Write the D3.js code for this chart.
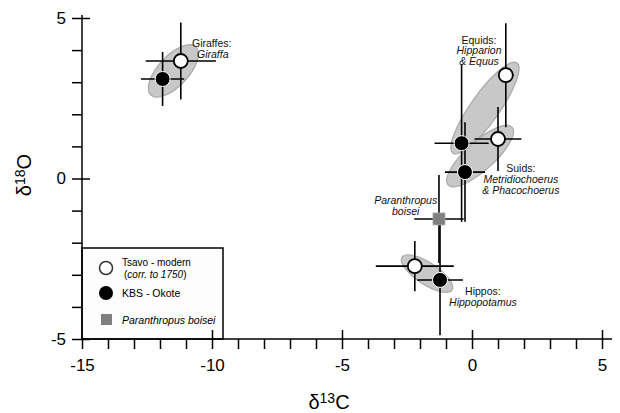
<!DOCTYPE html>
<html>
<head>
<meta charset="utf-8">
<script src="https://cdn.jsdelivr.net/npm/d3@7"></script>
<style>
  body { margin: 0; background: #fff; }
  svg { display: block; font-family: "Liberation Sans", Arial, Helvetica, sans-serif; }
</style>
</head>
<body>
<div id="chart"></div>
<script>
// Data (delta 13C vs delta 18O, per mil)
const groups = ["Giraffes", "Equids", "Suids", "Hippos"];

// Tsavo - modern (open circles)
const tsavoC = [-11.2, 1.3, 1.0, -2.2];
const tsavoO = [3.66, 3.22, 1.23, -2.73];
const tsavoErrC = [1.35, 0.3, 0.9, 1.5];
const tsavoErrO = [1.2, 1.62, 1.0, 0.78];

// KBS - Okote (filled circles)
const kbsC = [-11.9, -0.4, -0.27, -1.23];
const kbsO = [3.1, 1.1, 0.2, -3.16];
const kbsErrC = [0.83, 1.04, 0.77, 0.88];
const kbsErrO = [0.84, 2.45, 1.55, 1.72];

// Paranthropus boisei (square)
const boiseiC = [-1.27];
const boiseiO = [-1.26];
const boiseiErrC = [0.95];
const boiseiErrO = [1.37];

// shaded ellipses: major axis end points and half width (in delta 13C units)
const ellStartC = [-12.35, -0.73, -0.92, -2.69];
const ellStartO = [2.6, 0.79, -0.2, -2.45];
const ellEndC = [-10.62, 1.73, 1.54, -0.77];
const ellEndO = [4.1, 3.6, 1.6, -3.47];
const ellHalfWidth = [0.58, 0.55, 0.55, 0.42];

const xTicks = [-15, -10, -5, 0, 5];
const yTicks = [-5, 0, 5];

const W = 620, H = 413;
const svg = d3.select("#chart").append("svg").attr("width", W).attr("height", H);

const x = d3.scaleLinear().domain([-15, 5]).range([82, 602]);
const y = d3.scaleLinear().domain([-5, 5]).range([339, 18]);

// ellipses
const ell = groups.map((g, i) => {
  const x1 = x(ellStartC[i]), y1 = y(ellStartO[i]);
  const x2 = x(ellEndC[i]), y2 = y(ellEndO[i]);
  return {
    cx: (x1 + x2) / 2, cy: (y1 + y2) / 2,
    rx: Math.hypot(x2 - x1, y2 - y1) / 2,
    ry: x(ellHalfWidth[i]) - x(0),
    ang: Math.atan2(y2 - y1, x2 - x1) * 180 / Math.PI
  };
});
svg.append("g").selectAll("ellipse")
  .data(ell)
  .enter().append("ellipse")
  .attr("transform", d => `translate(${d.cx},${d.cy}) rotate(${d.ang})`)
  .attr("rx", d => d.rx)
  .attr("ry", d => d.ry)
  .attr("fill", "#c8c8c8")
  .attr("stroke", "#a8a8a8")
  .attr("stroke-width", 1.2);

// error bars
function errorBars(cs, os, ec, eo) {
  const g = svg.append("g").attr("stroke", "#000").attr("stroke-width", 1.6);
  cs.forEach((c, i) => {
    g.append("line").attr("x1", x(c - ec[i])).attr("x2", x(c + ec[i]))
      .attr("y1", y(os[i])).attr("y2", y(os[i]));
    g.append("line").attr("x1", x(c)).attr("x2", x(c))
      .attr("y1", y(os[i] - eo[i])).attr("y2", y(os[i] + eo[i]));
  });
}
errorBars(boiseiC, boiseiO, boiseiErrC, boiseiErrO);
errorBars(tsavoC, tsavoO, tsavoErrC, tsavoErrO);
errorBars(kbsC, kbsO, kbsErrC, kbsErrO);

// markers
svg.append("g").selectAll("rect")
  .data(boiseiC)
  .enter().append("rect")
  .attr("x", (d, i) => x(d) - 6)
  .attr("y", (d, i) => y(boiseiO[i]) - 6)
  .attr("width", 12).attr("height", 12)
  .attr("fill", "#7f7f7f")
  .attr("stroke", "#aaa").attr("stroke-width", 0.8);

svg.append("g").selectAll("circle")
  .data(tsavoC)
  .enter().append("circle")
  .attr("cx", d => x(d))
  .attr("cy", (d, i) => y(tsavoO[i]))
  .attr("r", 7)
  .attr("fill", "#fff")
  .attr("stroke", "#000").attr("stroke-width", 1.8);

svg.append("g").selectAll("circle")
  .data(kbsC)
  .enter().append("circle")
  .attr("cx", d => x(d))
  .attr("cy", (d, i) => y(kbsO[i]))
  .attr("r", 7.5)
  .attr("fill", "#000")
  .attr("stroke", "#fff").attr("stroke-width", 1);

// group labels
const notes = [
  { c: -10.77, o: 4.1, anchor: "start", lines: [["Giraffes:", false, 0], ["Giraffa", true, 5]] },
  { c: 0.27, o: 4.2, anchor: "middle", lines: [["Equids:", false, 0], ["Hipparion", true, 0], ["& Equus", true, 0]] },
  { c: 1.88, o: 0.2, anchor: "middle", lines: [["Suids:", false, 0], ["Metridiochoerus", true, 0], ["& Phacochoerus", true, 0]] },
  { c: -2.55, o: -0.8, anchor: "middle", lines: [["Paranthropus", true, 0], ["boisei", true, 0]] },
  { c: 0.42, o: -3.63, anchor: "middle", lines: [["Hippos:", false, 0], ["Hippopotamus", true, 0]] }
];
notes.forEach(n => {
  n.lines.forEach((l, j) => {
    svg.append("text")
      .attr("x", x(n.c) + l[2])
      .attr("y", y(n.o) + j * 10.8)
      .attr("text-anchor", n.anchor)
      .attr("font-size", 10.5)
      .attr("font-style", l[1] ? "italic" : "normal")
      .attr("fill", "#111")
      .text(l[0]);
  });
});

// legend
const leg = svg.append("g");
leg.append("rect")
  .attr("x", 82).attr("y", 248).attr("width", 141).attr("height", 91)
  .attr("fill", "#fdfdfd").attr("stroke", "#000").attr("stroke-width", 1.5);
leg.append("circle").attr("cx", 106).attr("cy", 268).attr("r", 6.5)
  .attr("fill", "#fff").attr("stroke", "#333").attr("stroke-width", 1.5);
leg.append("circle").attr("cx", 106).attr("cy", 293).attr("r", 7).attr("fill", "#000");
leg.append("rect").attr("x", 101).attr("y", 314).attr("width", 11).attr("height", 11).attr("fill", "#7f7f7f");
leg.append("text").attr("x", 122).attr("y", 265.5).attr("font-size", 10).text("Tsavo - modern");
const t2 = leg.append("text").attr("x", 124).attr("y", 277.5).attr("font-size", 10);
t2.append("tspan").text("(");
t2.append("tspan").attr("font-style", "italic").text("corr. to 1750");
t2.append("tspan").text(")");
leg.append("text").attr("x", 122).attr("y", 297).attr("font-size", 10.5).text("KBS - Okote");
leg.append("text").attr("x", 122).attr("y", 324).attr("font-size", 10.5)
  .attr("font-style", "italic").text("Paranthropus boisei");

// axes
const minorX = d3.range(-14, 5).filter(v => !xTicks.includes(v));
const minorY = d3.range(-4, 5).filter(v => !yTicks.includes(v));

const axX = svg.append("g").attr("transform", `translate(0,${y(-5)})`);
axX.append("line").attr("x1", x(-15)).attr("x2", 612).attr("stroke", "#000").attr("stroke-width", 1.5);
axX.append("g").call(d3.axisBottom(x).tickValues(minorX).tickSize(10).tickFormat(""))
  .call(g => g.select(".domain").remove());
axX.append("g").call(d3.axisBottom(x).tickValues(xTicks).tickSize(10).tickPadding(10).tickFormat(d => String(d)))
  .call(g => g.select(".domain").remove())
  .call(g => g.selectAll("text").attr("font-size", 17).attr("fill", "#000").attr("font-family", null));
axX.append("g").call(d3.axisTop(x).tickValues(xTicks.slice(1)).tickSize(9).tickFormat(""))
  .call(g => g.select(".domain").remove());

const axY = svg.append("g").attr("transform", `translate(${x(-15)},0)`);
axY.append("line").attr("y1", 15).attr("y2", y(-5)).attr("stroke", "#000").attr("stroke-width", 1.5);
axY.append("g").call(d3.axisLeft(y).tickValues(minorY).tickSize(10).tickFormat(""))
  .call(g => g.select(".domain").remove());
axY.append("g").call(d3.axisLeft(y).tickValues(yTicks).tickSize(10).tickPadding(6).tickFormat(d => String(d)))
  .call(g => g.select(".domain").remove())
  .call(g => g.selectAll("text").attr("font-size", 17).attr("fill", "#000").attr("font-family", null));
axY.append("g").call(d3.axisRight(y).tickValues(yTicks).tickSize(8).tickFormat(""))
  .call(g => g.select(".domain").remove());

svg.selectAll(".tick line").attr("stroke", "#000").attr("stroke-width", 1.5);

// axis titles
const xt = svg.append("text").attr("x", x(-5.5)).attr("y", 409)
  .attr("text-anchor", "middle").attr("font-size", 20);
xt.append("tspan").text("δ");
xt.append("tspan").attr("font-size", 14).attr("dy", -6).text("13");
xt.append("tspan").attr("dy", 6).text("C");

const yt = svg.append("text").attr("transform", "translate(31,175) rotate(-90)")
  .attr("text-anchor", "middle").attr("font-size", 20);
yt.append("tspan").text("δ");
yt.append("tspan").attr("font-size", 14).attr("dy", -6).text("18");
yt.append("tspan").attr("dy", 6).text("O");
</script>
</body>
</html>
